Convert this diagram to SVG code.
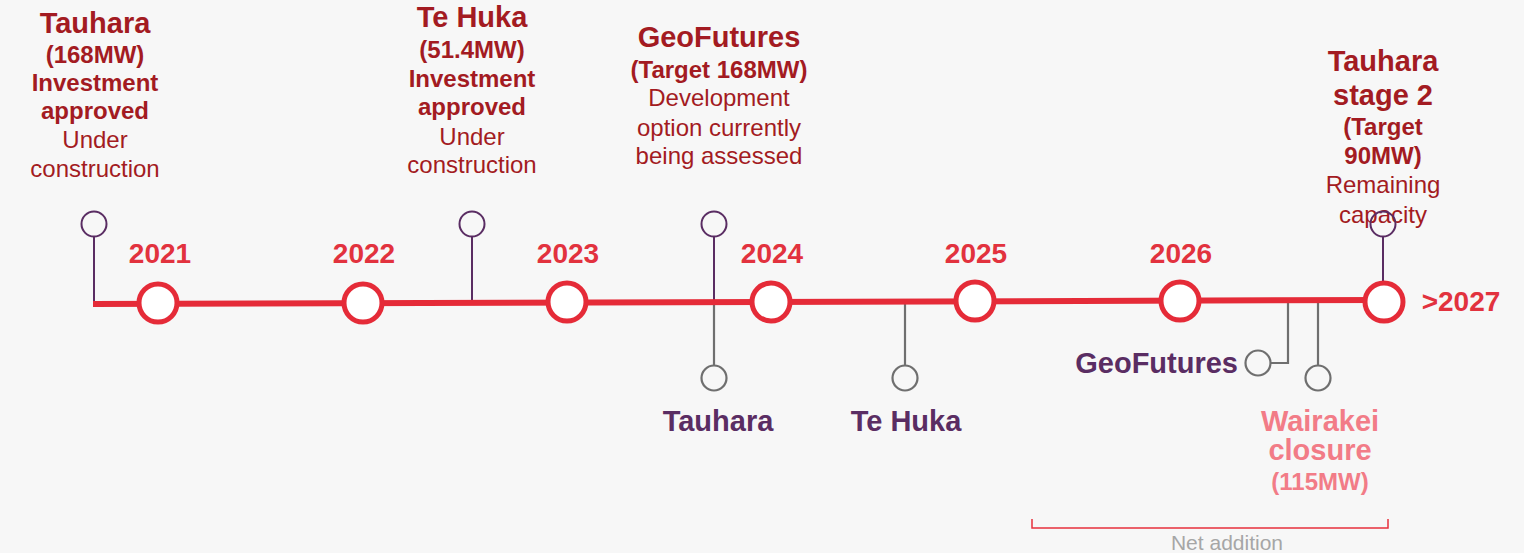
<svg xmlns="http://www.w3.org/2000/svg" width="1524" height="553" viewBox="0 0 1524 553">
<style>
text{font-family:"Liberation Sans",Arial,Helvetica,sans-serif;text-anchor:middle}
.h{font-size:29px;font-weight:bold;fill:#a31b22}
.s{font-size:24px;font-weight:bold;fill:#a31b22}
.r{font-size:24px;fill:#a31b22}
.yr{font-size:28px;font-weight:bold;fill:#e2323e}
.pl{font-size:29px;font-weight:bold;fill:#5a2d63}
.wk{font-weight:bold;fill:#f27c87}
.pp{fill:none;stroke:#5a2d63;stroke-width:2}
.gp{fill:none;stroke:#6f6f6f;stroke-width:2.2}
.yc{fill:#fff;stroke:#e52b38;stroke-width:5}
</style>
<rect width="1524" height="553" fill="#f7f7f7"/>
<g id="connectors">
<line class="pp" x1="94" y1="237" x2="94" y2="304"/>
<line class="pp" x1="472" y1="237" x2="472" y2="302"/>
<line class="pp" x1="714" y1="237" x2="714" y2="302"/>
<line class="pp" x1="1383" y1="237" x2="1383" y2="282"/>
<line class="gp" x1="714" y1="302" x2="714" y2="365"/>
<line class="gp" x1="905" y1="301" x2="905" y2="365"/>
<polyline class="gp" points="1288,300 1288,363 1271,363"/>
<line class="gp" x1="1318" y1="300" x2="1318" y2="365"/>
<line x1="93" y1="304" x2="1384" y2="300" stroke="#e52b38" stroke-width="6"/>
<polyline points="1032,519 1032,528 1388,528 1388,519" fill="none" stroke="#e8303c" stroke-width="1.5"/>
</g>
<g id="year-2021"><circle class="yc" cx="158" cy="303" r="19"/><text class="yr" x="160" y="263">2021</text></g>
<g id="year-2022"><circle class="yc" cx="363" cy="303" r="19"/><text class="yr" x="364" y="263">2022</text></g>
<g id="year-2023"><circle class="yc" cx="567" cy="302" r="19"/><text class="yr" x="568" y="263">2023</text></g>
<g id="year-2024"><circle class="yc" cx="771" cy="302" r="19"/><text class="yr" x="772" y="263">2024</text></g>
<g id="year-2025"><circle class="yc" cx="975" cy="301" r="19"/><text class="yr" x="976" y="263">2025</text></g>
<g id="year-2026"><circle class="yc" cx="1180" cy="301" r="19"/><text class="yr" x="1181" y="263">2026</text></g>
<g id="year-2027"><circle class="yc" cx="1384" cy="302" r="19"/><text class="yr" x="1461" y="311">&gt;2027</text></g>
<g id="tauhara-top">
<circle class="pp" cx="94" cy="224" r="12.5"/>
<text class="h" x="95" y="33">Tauhara</text>
<text class="s" x="95" y="63">(168MW)</text>
<text class="s" x="95" y="91">Investment</text>
<text class="s" x="95" y="119">approved</text>
<text class="r" x="95" y="148">Under</text>
<text class="r" x="95" y="177">construction</text>
</g>
<g id="tehuka-top">
<circle class="pp" cx="472" cy="224" r="12.5"/>
<text class="h" x="472" y="27">Te Huka</text>
<text class="s" x="472" y="58">(51.4MW)</text>
<text class="s" x="472" y="87">Investment</text>
<text class="s" x="472" y="115">approved</text>
<text class="r" x="472" y="145">Under</text>
<text class="r" x="472" y="173">construction</text>
</g>
<g id="geofutures-top">
<circle class="pp" cx="714" cy="224" r="12.5"/>
<text class="h" x="719" y="47">GeoFutures</text>
<text class="s" x="719" y="78">(Target 168MW)</text>
<text class="r" x="719" y="106">Development</text>
<text class="r" x="719" y="136">option currently</text>
<text class="r" x="719" y="164">being assessed</text>
</g>
<g id="tauhara-stage2">
<text class="h" x="1383" y="71">Tauhara</text>
<text class="h" x="1383" y="105">stage 2</text>
<text class="s" x="1383" y="135">(Target</text>
<text class="s" x="1383" y="164">90MW)</text>
<text class="r" x="1383" y="193">Remaining</text>
<text class="r" x="1383" y="223">capacity</text>
<circle class="pp" cx="1383" cy="224" r="12.5"/>
</g>
<g id="tauhara-bottom">
<circle class="gp" cx="714" cy="378" r="12.5"/>
<text class="pl" x="718" y="431">Tauhara</text>
</g>
<g id="tehuka-bottom">
<circle class="gp" cx="905" cy="378" r="12.5"/>
<text class="pl" x="906" y="431">Te Huka</text>
</g>
<g id="geofutures-bottom">
<circle class="gp" cx="1258" cy="363" r="12.5"/>
<text class="pl" x="1238" y="373" style="text-anchor:end">GeoFutures</text>
</g>
<g id="wairakei">
<circle class="gp" cx="1318" cy="378" r="12.5"/>
<text class="wk" x="1320" y="431" font-size="29">Wairakei</text>
<text class="wk" x="1320" y="460" font-size="29">closure</text>
<text class="wk" x="1320" y="490" font-size="24">(115MW)</text>
</g>
<g id="net-addition">
<text x="1227" y="550" font-size="21" fill="#a6a6a6">Net addition</text>
</g>
</svg>
